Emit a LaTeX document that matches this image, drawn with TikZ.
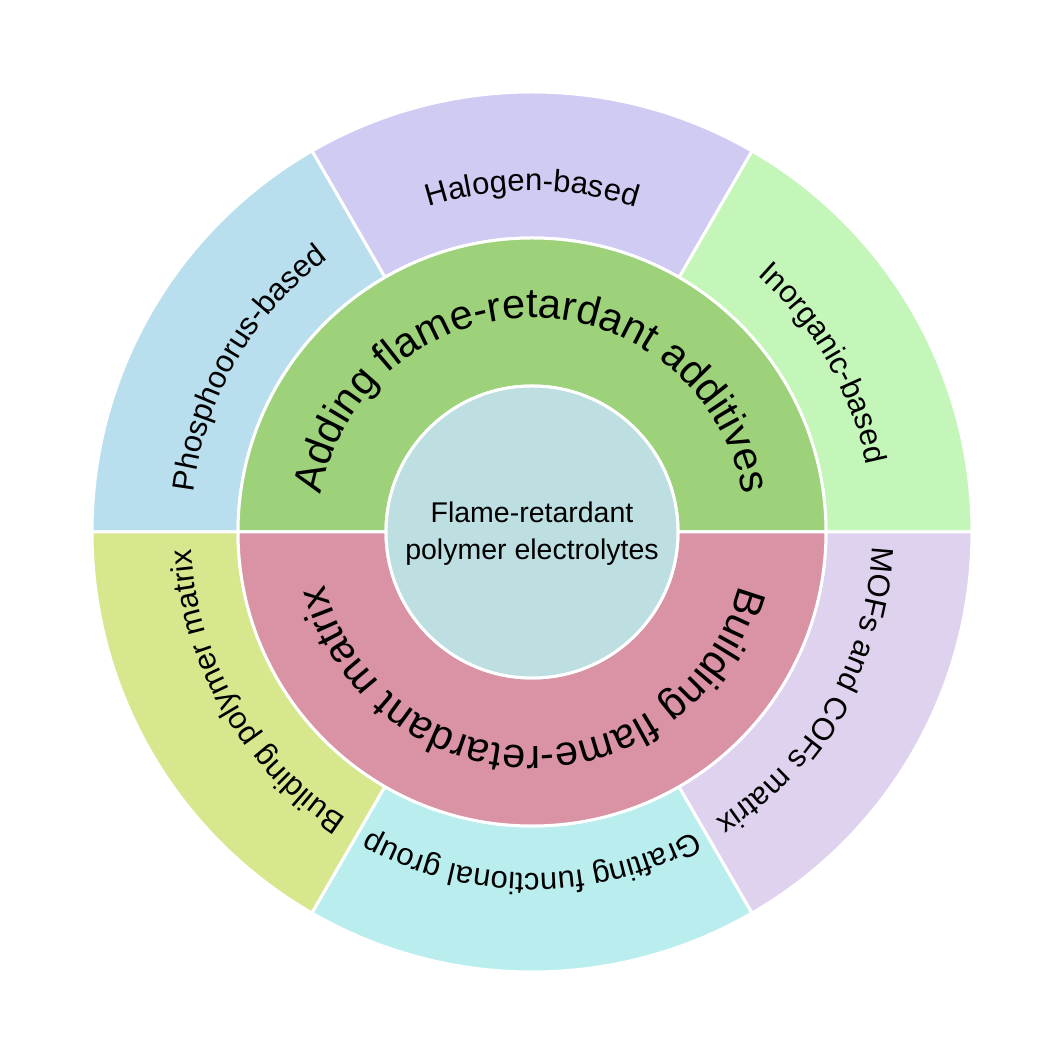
\documentclass[tikz,border=0pt]{standalone}
\usepackage{fontspec}
\setmainfont{Liberation Sans}
\usetikzlibrary{decorations.text}
\definecolor{phosfill}{HTML}{B9DEEE}
\definecolor{halofill}{HTML}{CFCBF2}
\definecolor{inorgfill}{HTML}{C4F5B9}
\definecolor{polyfill}{HTML}{D7E78D}
\definecolor{graftfill}{HTML}{BAEEEE}
\definecolor{mofsfill}{HTML}{DFD2EF}
\definecolor{addfill}{HTML}{9DD27A}
\definecolor{buildfill}{HTML}{D993A4}
\definecolor{corefill}{HTML}{BDDFE2}

\begin{document}
\begin{tikzpicture}[
  x=1pt,
  y=1pt,
  slice/.style={draw=white, line width=3pt},
  arclabel/.style={decorate, decoration={text along path, text align=center, text={#1}}}
]
  \useasboundingbox (-532,-532) rectangle (532,532);
  \def\rcore{146pt}
  \def\rmid{294pt}
  \def\rout{440pt}
  \def\outerfont{|\fontsize{31pt}{36pt}\selectfont|}
  \def\innerfont{|\fontsize{41.5pt}{48pt}\selectfont|}
  % ring slice: colour, start angle, end angle, inner radius, outer radius
  \def\sectorfill#1#2#3#4#5{%
    \path[slice, fill=#1] (#2:#4) -- (#2:#5) arc[start angle=#2, end angle=#3, radius=#5]
      -- (#3:#4) arc[start angle=#3, end angle=#2, radius=#4] -- cycle;}

  % Outer ring
  \sectorfill{inorgfill}{0}{60}{\rmid}{\rout}
  \sectorfill{halofill}{60}{120}{\rmid}{\rout}
  \sectorfill{phosfill}{120}{180}{\rmid}{\rout}
  \sectorfill{polyfill}{180}{240}{\rmid}{\rout}
  \sectorfill{graftfill}{240}{300}{\rmid}{\rout}
  \sectorfill{mofsfill}{300}{360}{\rmid}{\rout}

  \path[arclabel={\outerfont Halogen-based}] (150:341pt) arc[start angle=150, end angle=30, radius=341pt];
  \path[arclabel={\outerfont Phosphoorus-based}] (210:341pt) arc[start angle=210, end angle=90, radius=341pt];
  \path[arclabel={\outerfont Inorganic-based}] (90:341pt) arc[start angle=90, end angle=-30, radius=341pt];
  \path[arclabel={\outerfont Building polymer matrix}] (270:341pt) arc[start angle=270, end angle=150, radius=341pt];
  \path[arclabel={\outerfont Grafting functional group}] (330:341pt) arc[start angle=330, end angle=210, radius=341pt];
  \path[arclabel={\outerfont MOFs and COFs matrix}] (30:341pt) arc[start angle=30, end angle=-90, radius=341pt];

  % Middle ring
  \sectorfill{addfill}{0}{180}{\rcore}{\rmid}
  \sectorfill{buildfill}{180}{360}{\rcore}{\rmid}

  \path[arclabel={\innerfont Adding flame-retardant additives}] (200:214pt) arc[start angle=200, end angle=-20, radius=214pt];
  \path[arclabel={\innerfont Building flame-retardant matrix}] (20:214pt) arc[start angle=20, end angle=-200, radius=214pt];

  % Core
  \path[slice, fill=corefill] (0,0) circle[radius=\rcore];
  \node[align=center, font=\fontsize{28.5pt}{37pt}\selectfont] (core) at (0,-2) {Flame-retardant\\polymer electrolytes};
\end{tikzpicture}
\end{document}
